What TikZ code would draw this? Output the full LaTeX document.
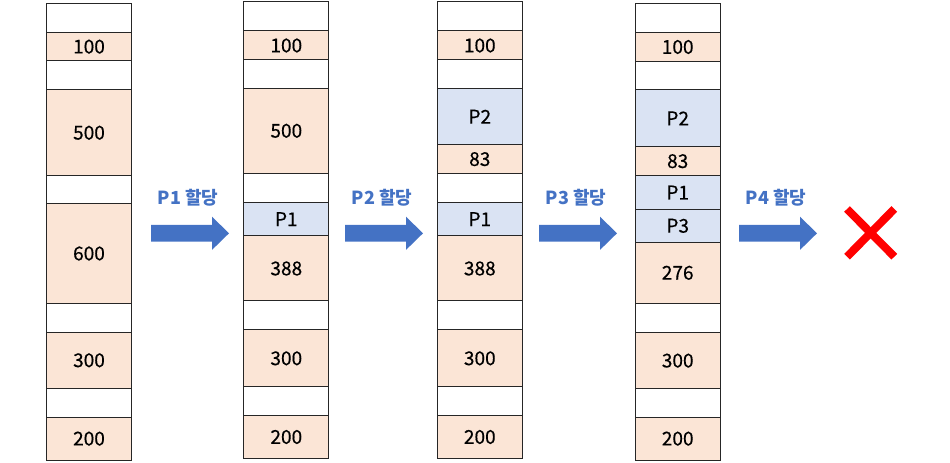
\documentclass[tikz,border=0pt]{standalone}
\usepackage{fontspec}
\setmainfont{Noto Sans CJK KR}
\newfontfamily\cellfont[FakeBold=0.4]{Noto Sans CJK KR}
\definecolor{freemem}{HTML}{FBE5D6}
\definecolor{usedmem}{HTML}{DAE3F3}
\definecolor{arrowblue}{HTML}{4472C4}
\tikzset{
  cellbox/.style={draw=black!85, line width=0.75pt},
  celltext/.style={font=\cellfont\fontsize{14.3}{17}\selectfont, text=black, inner sep=0pt},
  steplabel/.style={font=\fontsize{13.5}{16}\selectfont\bfseries, text=arrowblue, inner sep=0pt},
  blockarrow/.pic={
    \fill[arrowblue] (0,-8.3) -- (61,-8.3) -- (61,-16.6) -- (78,0)
      -- (61,16.6) -- (61,8.3) -- (0,8.3) -- cycle;
  }
}
% one memory column: x of left edge, then top/bottom/colour/text per cell
\newcommand\memcolumn[2]{%
  \foreach \ya/\yb/\cc/\tt in {#2} {%
    \draw[cellbox, fill=\cc] (#1,\ya) rectangle (#1+85,\yb)
      node[midway, celltext] {\tt};
  }%
}
\begin{document}
\begin{tikzpicture}[x=0.75pt, y=-0.75pt]
\useasboundingbox (0,0) rectangle (950,463);

% initial state
\memcolumn{46.5}{3.5/32.3/white/{}, 32.3/61/freemem/100, 61/90/white/{},
  90/175.5/freemem/500, 175.5/203.7/white/{}, 203.7/303.3/freemem/600,
  303.3/332.3/white/{}, 332.3/388.3/freemem/300, 388.3/417.3/white/{},
  417.3/460/freemem/200}

% after P1
\memcolumn{243.8}{2/31/white/{}, 31/60/freemem/100, 60/88.3/white/{},
  88.3/173.3/freemem/500, 173.3/202.3/white/{}, 202.3/236/usedmem/P1,
  236/301/freemem/388, 301/330/white/{}, 330/386.7/freemem/300,
  386.7/415.7/white/{}, 415.7/458.3/freemem/200}

% after P2
\memcolumn{437.3}{2/31/white/{}, 31/60/freemem/100, 60/88.3/white/{},
  88.3/145/usedmem/P2, 145/173.3/freemem/83, 173.3/202.3/white/{},
  202.3/236/usedmem/P1, 236/301/freemem/388, 301/330/white/{},
  330/386.7/freemem/300, 386.7/415.7/white/{}, 415.7/458.3/freemem/200}

% after P3
\memcolumn{635.2}{3.5/32.3/white/{}, 32.3/61.7/freemem/100, 61.7/90/white/{},
  90/146.7/usedmem/P2, 146.7/175.7/freemem/83, 175.7/209.3/usedmem/P1,
  209.3/242.3/usedmem/P3, 242.3/303.3/freemem/276, 303.3/332.3/white/{},
  332.3/389/freemem/300, 389/417.3/white/{}, 417.3/460/freemem/200}

% allocation steps
\pic at (151,233.3) {blockarrow};
\pic at (345,233.3) {blockarrow};
\pic at (539,233.3) {blockarrow};
\pic at (739,233.3) {blockarrow};
\node[steplabel] (s1) at (188,198) {P1 할당};
\node[steplabel] (s2) at (382,198) {P2 할당};
\node[steplabel] (s3) at (576,198) {P3 할당};
\node[steplabel] (s4) at (776,198) {P4 할당};

% allocation failure
\coordinate (xa) at (847,209);
\coordinate (xb) at (894.3,256.7);
\coordinate (xc) at (847,256.7);
\coordinate (xd) at (894.3,209);
\draw[red, line width=6pt] (xa) -- (xb);
\draw[red, line width=6pt] (xc) -- (xd);
\end{tikzpicture}
\end{document}
